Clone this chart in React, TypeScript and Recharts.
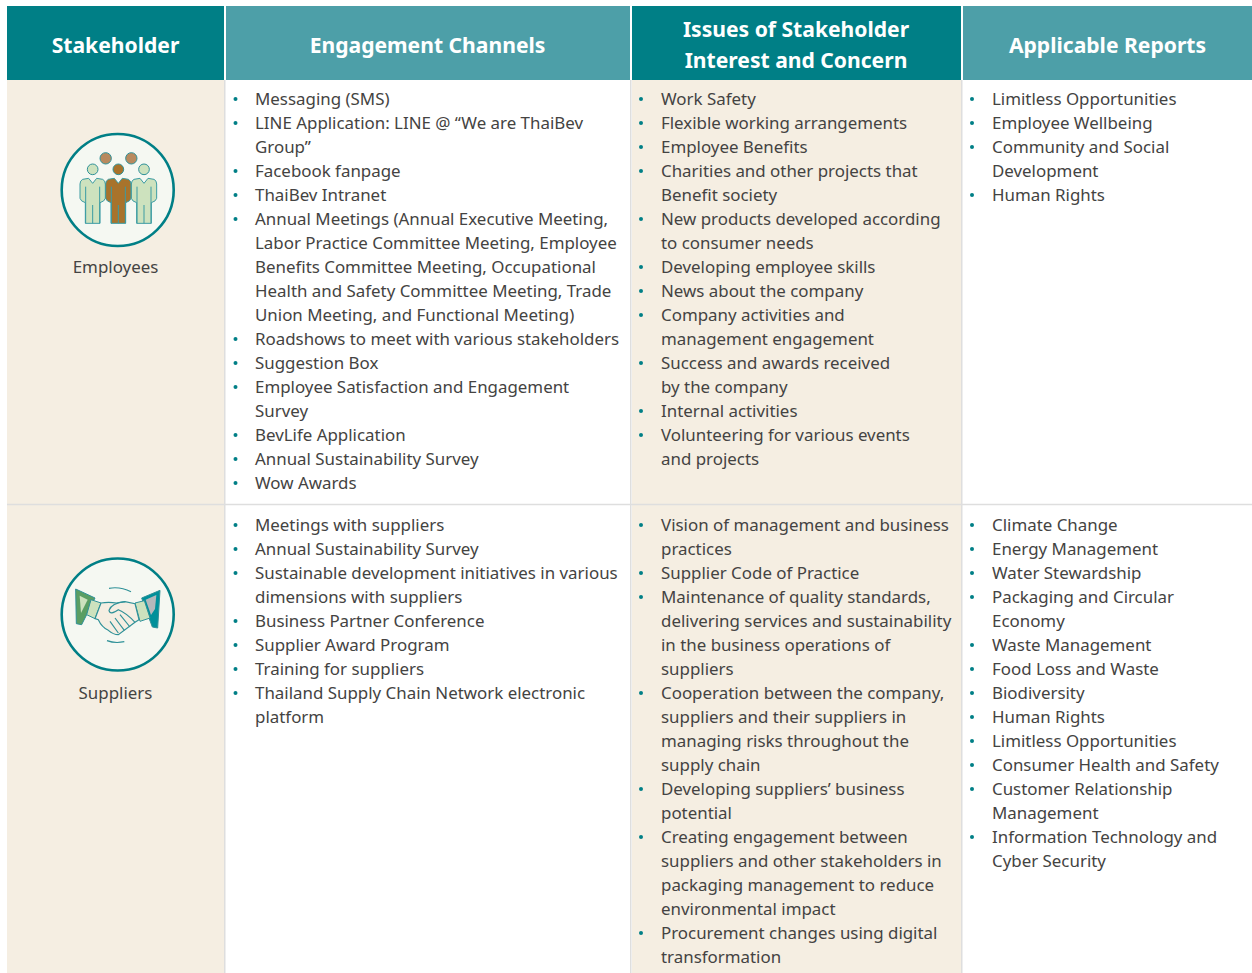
import React from "react";
import { ScatterChart, Scatter, XAxis, YAxis, ReferenceArea } from "recharts";

const WIDTH = 1252;
const HEIGHT = 973;
const FONT = "'Noto Sans', sans-serif";
const TEAL = "#007F86";
const TEAL_LIGHT = "#4D9FA8";
const BEIGE = "#F5EEE2";
const RULE = "#DEDEDE";
const INK = "#444342";

const headers = [["Stakeholder"], ["Engagement Channels"], ["Issues of Stakeholder", "Interest and Concern"], ["Applicable Reports"]];
const stakeholders = ["Employees", "Suppliers"];

const employeeChannels = [
  ["Messaging (SMS)"],
  ["LINE Application: LINE @ “We are ThaiBev", "Group”"],
  ["Facebook fanpage"],
  ["ThaiBev Intranet"],
  ["Annual Meetings (Annual Executive Meeting,", "Labor Practice Committee Meeting, Employee", "Benefits Committee Meeting, Occupational", "Health and Safety Committee Meeting, Trade", "Union Meeting, and Functional Meeting)"],
  ["Roadshows to meet with various stakeholders"],
  ["Suggestion Box"],
  ["Employee Satisfaction and Engagement", "Survey"],
  ["BevLife Application"],
  ["Annual Sustainability Survey"],
  ["Wow Awards"],
];
const employeeIssues = [
  ["Work Safety"],
  ["Flexible working arrangements"],
  ["Employee Benefits"],
  ["Charities and other projects that", "Benefit society"],
  ["New products developed according", "to consumer needs"],
  ["Developing employee skills"],
  ["News about the company"],
  ["Company activities and", "management engagement"],
  ["Success and awards received", "by the company"],
  ["Internal activities"],
  ["Volunteering for various events", "and projects"],
];
const employeeReports = [
  ["Limitless Opportunities"],
  ["Employee Wellbeing"],
  ["Community and Social", "Development"],
  ["Human Rights"],
];
const supplierChannels = [
  ["Meetings with suppliers"],
  ["Annual Sustainability Survey"],
  ["Sustainable development initiatives in various", "dimensions with suppliers"],
  ["Business Partner Conference"],
  ["Supplier Award Program"],
  ["Training for suppliers"],
  ["Thailand Supply Chain Network electronic", "platform"],
];
const supplierIssues = [
  ["Vision of management and business", "practices"],
  ["Supplier Code of Practice"],
  ["Maintenance of quality standards,", "delivering services and sustainability", "in the business operations of", "suppliers"],
  ["Cooperation between the company,", "suppliers and their suppliers in", "managing risks throughout the", "supply chain"],
  ["Developing suppliers’ business", "potential"],
  ["Creating engagement between", "suppliers and other stakeholders in", "packaging management to reduce", "environmental impact"],
  ["Procurement changes using digital", "transformation"],
];
const supplierReports = [
  ["Climate Change"],
  ["Energy Management"],
  ["Water Stewardship"],
  ["Packaging and Circular", "Economy"],
  ["Waste Management"],
  ["Food Loss and Waste"],
  ["Biodiversity"],
  ["Human Rights"],
  ["Limitless Opportunities"],
  ["Consumer Health and Safety"],
  ["Customer Relationship", "Management"],
  ["Information Technology and", "Cyber Security"],
];

const BODY_SIZE = 16.9;
const LINE = 24;
const textX = [255, 661, 992];
const bulletX = [235.5, 641, 972];
const rowFirstLine = [99, 525];
const labelY = [267, 693];
const iconY = [190, 614.5];
const iconX = 117.7;

type Pt = { x: number; y: number; text?: string; kind?: number };
const cells = [
  [employeeChannels, employeeIssues, employeeReports],
  [supplierChannels, supplierIssues, supplierReports],
];
const linePts: Pt[] = [];
const bulletPts: Pt[] = [];
cells.forEach((row, r) =>
  row.forEach((items, c) => {
    let n = 0;
    items.forEach((item) => {
      bulletPts.push({ x: bulletX[c], y: rowFirstLine[r] + n * LINE });
      item.forEach((text) => {
        linePts.push({ x: textX[c], y: rowFirstLine[r] + n * LINE, text });
        n += 1;
      });
    });
  })
);
const headerCenters = [115.5, 427.5, 796, 1107.5];
const headerPts: Pt[] = headers.flatMap((lines, i) =>
  lines.map((text, j) => ({ x: headerCenters[i], y: 45.3 + (j - (lines.length - 1) / 2) * 31.5, text }))
);
const labelPts: Pt[] = stakeholders.map((text, i) => ({ x: 115.5, y: labelY[i], text }));
const iconPts: Pt[] = stakeholders.map((_, i) => ({ x: iconX, y: iconY[i], kind: i }));

const bands = [
  { x1: 7, x2: 224, y1: 6, y2: 80, fill: TEAL },
  { x1: 226, x2: 630, y1: 6, y2: 80, fill: TEAL_LIGHT },
  { x1: 632, x2: 961, y1: 6, y2: 80, fill: TEAL },
  { x1: 963, x2: 1252, y1: 6, y2: 80, fill: TEAL_LIGHT },
  { x1: 7, x2: 224, y1: 80, y2: 973, fill: BEIGE },
  { x1: 632, x2: 961, y1: 80, y2: 973, fill: BEIGE },
  { x1: 224, x2: 225.5, y1: 80, y2: 973, fill: RULE },
  { x1: 630, x2: 631.5, y1: 80, y2: 973, fill: RULE },
  { x1: 961, x2: 962.5, y1: 80, y2: 973, fill: RULE },
  { x1: 7, x2: 1252, y1: 503.7, y2: 505.2, fill: RULE },
];

const Body = (p: any) => (
  <text x={p.cx} y={p.cy} dy="0.35em" fontFamily={FONT} fontSize={BODY_SIZE} fill={INK}>
    {p.payload.text}
  </text>
);
const Label = (p: any) => (
  <text x={p.cx} y={p.cy} dy="0.35em" textAnchor="middle" fontFamily={FONT} fontSize={BODY_SIZE} fill={INK}>
    {p.payload.text}
  </text>
);
const Head = (p: any) => (
  <text x={p.cx} y={p.cy} dy="0.35em" textAnchor="middle" fontFamily={FONT} fontWeight={700} fontSize={21.1} fill="#fff">
    {p.payload.text}
  </text>
);
const Dot = (p: any) => <circle cx={p.cx} cy={p.cy} r={2} fill={TEAL} />;

const figure = (x: number, fill: string, key: string) => (
  <path
    key={key}
    d={`M${x - 30} 148 L${x - 12} 145 L${x} 160 L${x + 12} 145 L${x + 30} 148 Q${x + 38} 152 ${x + 38} 162 L${x + 38} 205 Q${x + 36} 214 ${x + 22} 218 L${x + 22} 280 L${x - 22} 280 L${x - 22} 218 Q${x - 36} 214 ${x - 38} 205 L${x - 38} 162 Q${x - 38} 152 ${x - 30} 148 Z`}
    fill={fill}
    stroke="#3C9CA3"
    strokeWidth={3}
  />
);

const PeopleArt = () => (
  <g>
    {figure(113, "#CDE2BE", "a")}
    {figure(267, "#CDE2BE", "b")}
    {figure(190, "#A8732B", "c")}
    {[113, 267, 190].map((x, i) => (
      <circle key={x} cx={x} cy={118} r={16} fill={i === 2 ? "#A8732B" : "#CDE2BE"} stroke="#2F9198" strokeWidth={3} />
    ))}
    {[152, 229].map((x) => (
      <circle key={x} cx={x} cy={85} r={17} fill="#B88A5E" stroke="#2F9198" strokeWidth={3} />
    ))}
    <path d="M92 170V280M134 170V280M113 225V280M246 170V280M288 170V280M267 225V280M169 170V280M211 170V280M190 225V280" stroke="#3C9CA3" strokeWidth={3} fill="none" />
  </g>
);

const HandsArt = () => (
  <g>
    <path d="M62 108L120 135L80 215L64 212Z" fill="#5A9E63" stroke="#2F9198" strokeWidth={3} />
    <path d="M74 128L98 140L78 180Z" fill="#CDE2BE" />
    <path d="M260 135L315 112L308 225L292 222Z" fill="#00909A" stroke="#2F9198" strokeWidth={3} />
    <path d="M272 140L304 126L300 168L288 186Z" fill="#B5B8BB" />
    <path d="M108 140L138 150L120 197L95 185Z" fill="#CDE2BE" stroke="#2F9198" strokeWidth={3} />
    <path d="M240 150L268 143L285 195L255 205Z" fill="#CDE2BE" stroke="#2F9198" strokeWidth={3} />
    <path d="M138 150Q160 146 185 150L210 146L240 152L252 200L240 208L190 245Q175 245 160 232Q140 222 130 200L120 197Z" fill="#F5EEE2" stroke="#2F9198" strokeWidth={3.5} />
    <path d="M210 146Q170 150 162 172Q165 188 190 170Q215 180 240 208M195 185L225 222M180 195L208 232M165 205L190 240" fill="none" stroke="#2F9198" strokeWidth={3.5} />
    <path d="M162 106Q195 100 228 116M156 263Q180 272 208 266" fill="none" stroke="#2F9198" strokeWidth={3.5} />
  </g>
);

const Icon = (p: any) => {
  const k = p.payload.kind;
  const oy = k === 0 ? 60 : 61.5;
  return (
    <g>
      <circle cx={p.cx} cy={p.cy} r={56} fill="#F5F8F2" stroke={TEAL} strokeWidth={2.6} />
      <g transform={`translate(${p.cx - 62.7} ${p.cy - oy}) scale(${1 / 3})`}>{k === 0 ? <PeopleArt /> : <HandsArt />}</g>
    </g>
  );
};

export default function App() {
  return (
    <div style={{ position: "absolute", left: 0, top: 0, width: WIDTH, height: HEIGHT, overflow: "hidden", background: "#fff" }}>
      <ScatterChart width={WIDTH} height={HEIGHT} margin={{ top: 0, right: 0, bottom: 0, left: 0 }}>
        <XAxis type="number" dataKey="x" domain={[0, WIDTH]} hide />
        <YAxis type="number" dataKey="y" domain={[0, HEIGHT]} reversed hide />
        {bands.map((b, i) => (
          <ReferenceArea key={i} x1={b.x1} x2={b.x2} y1={b.y1} y2={b.y2} fill={b.fill} fillOpacity={1} stroke="none" />
        ))}
        <Scatter data={headerPts} shape={Head} isAnimationActive={false} />
        <Scatter data={iconPts} shape={Icon} isAnimationActive={false} />
        <Scatter data={labelPts} shape={Label} isAnimationActive={false} />
        <Scatter data={bulletPts} shape={Dot} isAnimationActive={false} />
        <Scatter data={linePts} shape={Body} isAnimationActive={false} />
      </ScatterChart>
    </div>
  );
}
